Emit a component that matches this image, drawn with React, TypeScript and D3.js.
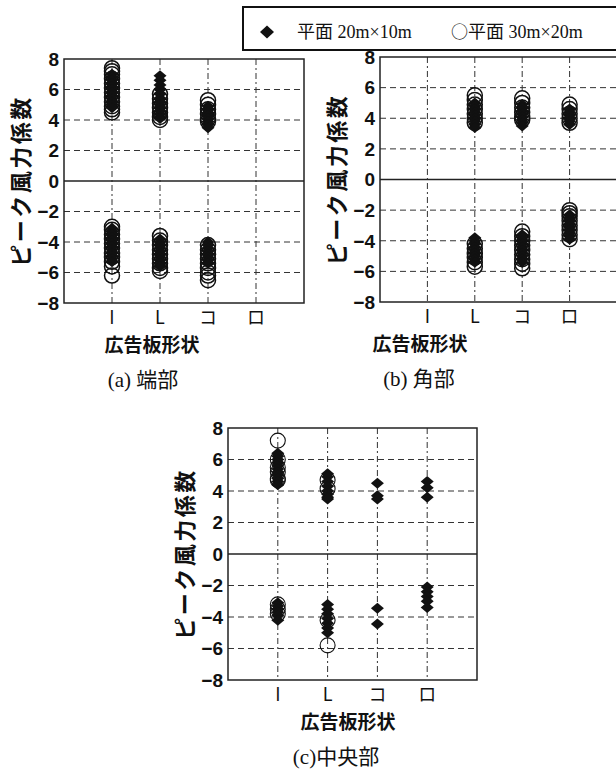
import React from "react";
import * as d3 from "d3";

const categories = ["I", "L", "コ", "ロ"];
const yTicks = [8, 6, 4, 2, 0, -2, -4, -6, -8];
const legendLabels = ["平面 20m×10m", "平面 30m×20m"];
const yTitle = "ピーク風力係数";
const xTitle = "広告板形状";
const captions = ["(a) 端部", "(b) 角部", "(c)中央部"];

// (a) 端部
const edgeSmall: Record<string, number[]> = {
  I: [7.0, 6.8, 6.6, 6.4, 6.2, 6.0, 5.8, 5.6, 5.4, 5.2, 5.0, 4.8, -3.1, -3.3, -3.5, -3.7, -3.9, -4.1, -4.3, -4.5, -4.7, -4.9, -5.1, -5.3],
  L: [6.9, 6.6, 6.3, 6.0, 5.7, 5.4, 5.2, 5.0, 4.8, 4.6, 4.4, 4.2, 4.1, -3.8, -4.0, -4.2, -4.4, -4.6, -4.8, -5.0, -5.2, -5.4, -5.6],
  "コ": [4.9, 4.7, 4.5, 4.3, 4.1, 3.9, 3.7, 3.5, -4.0, -4.2, -4.4, -4.6, -4.8, -5.0, -5.2, -5.4],
  "ロ": [],
};
const edgeLarge: Record<string, number[]> = {
  I: [7.4, 7.2, 7.0, 6.7, 6.4, 6.1, 5.8, 5.5, 5.2, 4.9, 4.7, 4.5, -3.0, -3.2, -3.5, -3.8, -4.1, -4.4, -4.7, -5.0, -5.3, -5.6, -6.2],
  L: [5.7, 5.4, 5.1, 4.8, 4.5, 4.2, 4.0, -3.6, -3.9, -4.2, -4.5, -4.8, -5.1, -5.4, -5.7, -5.9],
  "コ": [5.3, 5.0, 4.7, 4.4, 4.1, 3.9, -4.2, -4.5, -4.8, -5.1, -5.4, -5.7, -6.0, -6.2, -6.5],
  "ロ": [],
};
// (b) 角部
const cornerSmall: Record<string, number[]> = {
  I: [],
  L: [5.0, 4.8, 4.6, 4.4, 4.2, 4.0, 3.8, 3.6, 3.4, -3.8, -4.0, -4.2, -4.4, -4.6, -4.8, -5.0, -5.2, -5.4],
  "コ": [4.9, 4.7, 4.5, 4.3, 4.1, 3.9, 3.7, 3.5, -3.6, -3.8, -4.0, -4.2, -4.4, -4.6, -4.8, -5.0, -5.2, -5.4],
  "ロ": [4.6, 4.4, 4.2, 4.0, 3.8, 3.6, -2.3, -2.5, -2.7, -2.9, -3.1, -3.3, -3.5, -3.7, -3.9],
};
const cornerLarge: Record<string, number[]> = {
  I: [],
  L: [5.5, 5.2, 4.9, 4.6, 4.3, 4.0, 3.7, -4.2, -4.5, -4.8, -5.1, -5.4, -5.7],
  "コ": [5.3, 5.0, 4.7, 4.4, 4.1, 3.9, -3.4, -3.7, -4.0, -4.3, -4.6, -4.9, -5.2, -5.5, -5.8],
  "ロ": [4.9, 4.6, 4.3, 4.0, 3.7, -2.0, -2.2, -2.4, -2.7, -3.0, -3.3, -3.6, -3.9],
};
// (c) 中央部
const centerSmall: Record<string, number[]> = {
  I: [6.4, 6.2, 6.0, 5.8, 5.6, 5.4, 5.2, 5.0, 4.8, 4.6, 4.4, -3.1, -3.3, -3.5, -3.7, -3.9, -4.2],
  L: [5.1, 4.9, 4.6, 4.3, 4.0, 3.8, 3.6, 3.5, -3.2, -3.5, -3.8, -4.1, -4.4, -4.7, -5.0],
  "コ": [4.5, 3.7, 3.5, -3.45, -4.45],
  "ロ": [4.6, 4.2, 3.6, -2.1, -2.4, -2.7, -3.0, -3.4],
};
const centerLarge: Record<string, number[]> = {
  I: [7.2, 6.0, 5.5, 5.2, 4.8, 4.7, -3.2, -3.5, -3.8],
  L: [4.7, 4.15, -4.2, -5.8],
  "コ": [],
  "ロ": [],
};

type PanelProps = {
  left: number; right: number; top: number; bottom: number;
  small: Record<string, number[]>; large: Record<string, number[]>;
  xTitleX: number; captionX: number; caption: string; circleStroke: number;
};

const diamondPath = (cx: number, cy: number, hw: number, hh: number) =>
  `M${cx},${cy - hh}L${cx + hw},${cy}L${cx},${cy + hh}L${cx - hw},${cy}Z`;

const serif = "'Liberation Serif', 'Noto Sans CJK JP', serif";
const cjk = "'Noto Sans CJK JP', sans-serif";

function Panel(p: PanelProps) {
  const x = d3.scaleLinear().domain([0, 5]).range([p.left, p.right]);
  const y = d3.scaleLinear().domain([-8, 8]).range([p.bottom, p.top]);
  const grid = "#333";
  return (
    <g>
      {yTicks.filter((t) => t !== 8 && t !== -8 && t !== 0).map((t) => (
        <line key={"h" + t} x1={p.left} x2={p.right} y1={y(t)} y2={y(t)} stroke={grid} strokeWidth={1} strokeDasharray="6,4" />
      ))}
      {categories.map((c, i) => (
        <line key={"v" + c} x1={x(i + 1)} x2={x(i + 1)} y1={p.top} y2={p.bottom} stroke={grid} strokeWidth={1} strokeDasharray="6,3,2,3" />
      ))}
      <line x1={p.left} x2={p.right} y1={y(0)} y2={y(0)} stroke="#222" strokeWidth={1.3} />
      <rect x={p.left} y={p.top} width={p.right - p.left} height={p.bottom - p.top} fill="none" stroke="#222" strokeWidth={1.5} />
      {categories.map((c, i) =>
        p.large[c].map((v, j) => (
          <circle key={"c" + c + j} cx={x(i + 1)} cy={y(v)} r={7.5} fill="none" stroke="#111" strokeWidth={p.circleStroke} />
        ))
      )}
      {categories.map((c, i) =>
        p.small[c].map((v, j) => (
          <path key={"d" + c + j} d={diamondPath(x(i + 1), y(v), 6.5, 5.5)} fill="#111" />
        ))
      )}
      {yTicks.map((t) => (
        <text key={"t" + t} x={p.left - 5} y={y(t)} dy="0.36em" textAnchor="end"
          fontFamily="'Liberation Sans', Arial, sans-serif" fontWeight="bold" fontSize={19} fill="#111">
          {t < 0 ? "−" + Math.abs(t) : String(t)}
        </text>
      ))}
      {categories.map((c, i) => (
        <text key={"x" + c} x={x(i + 1)} y={p.bottom + 15} dy="0.36em" textAnchor="middle"
          fontFamily={cjk} fontSize={18} fill="#111">{c}</text>
      ))}
      <text transform={`translate(${p.left - 43},${(p.top + p.bottom) / 2}) rotate(-90)`} textAnchor="middle" dy="0.36em"
        fontFamily={cjk} fontWeight="bold" fontSize={22} letterSpacing={2.5} fill="#111">{yTitle}</text>
      <text x={p.xTitleX} y={p.bottom + 42} dy="0.36em" textAnchor="middle"
        fontFamily={cjk} fontWeight="bold" fontSize={19} fill="#111">{xTitle}</text>
      <text x={p.captionX} y={p.bottom + 76} dy="0.36em" textAnchor="middle"
        fontFamily={serif} fontSize={21} fill="#111">{p.caption}</text>
    </g>
  );
}

export default function App() {
  return (
    <svg width={616} height={769} style={{ position: "absolute", left: 0, top: 0, background: "#fff" }}>
      <rect x={0} y={0} width={616} height={769} fill="#fff" />
      <rect x={243} y={7} width={380} height={43} fill="none" stroke="#111" strokeWidth={2} />
      <path d={diamondPath(267, 32, 7, 6.5)} fill="#111" />
      <text x={297} y={38} fontFamily={serif} fontSize={18} fill="#111">{legendLabels[0]}</text>
      <text x={451} y={38} fontFamily={serif} fontSize={18} fill="#111">
        <tspan fontFamily={cjk} fontSize={17}>○</tspan>{legendLabels[1]}
      </text>
      <Panel left={64} right={304} top={59} bottom={303} small={edgeSmall} large={edgeLarge} xTitleX={152} captionX={143} caption={captions[0]} circleStroke={1.5} />
      <Panel left={380} right={617} top={57} bottom={302} small={cornerSmall} large={cornerLarge} xTitleX={420} captionX={419} caption={captions[1]} circleStroke={1.5} />
      <Panel left={228} right={477} top={428} bottom={680} small={centerSmall} large={centerLarge} xTitleX={348} captionX={336} caption={captions[2]} circleStroke={1.1} />
    </svg>
  );
}
